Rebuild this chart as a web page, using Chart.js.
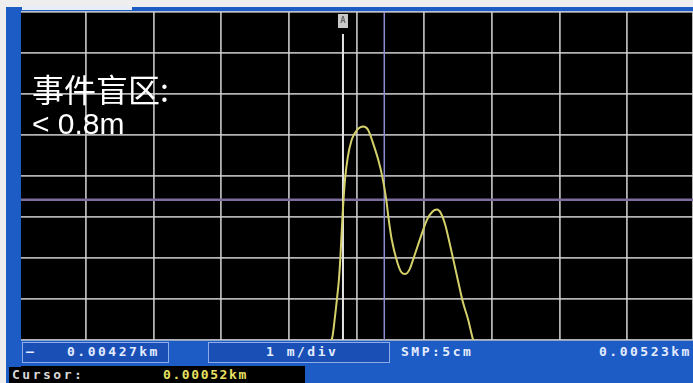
<!DOCTYPE html>
<html>
<head>
<meta charset="utf-8">
<script src="https://cdn.jsdelivr.net/npm/chart.js@4.4.1/dist/chart.umd.min.js"></script>
<style>
  html, body { margin: 0; padding: 0; }
  body { width: 693px; height: 383px; position: relative; overflow: hidden; background: #eeeeee; }
  .abs { position: absolute; }
  #frame { left: 6px; top: 7px; width: 687px; height: 376px; background: #1d5cc4; }
  #tab { left: 22px; top: 6px; width: 110px; height: 4px; background: #e8eef8; }
  #plotBg { left: 18px; top: 12px; width: 675px; height: 328px; background: #000; }
  #leftFrame { left: 6px; top: 7px; width: 15px; height: 360px; background: #1d5cc4; }
  #chartWrap { left: 0; top: 0; width: 693px; height: 383px; }
  .bar { font-family: "DejaVu Sans Mono", monospace; font-weight: bold; font-size: 13px;
         letter-spacing: 2.5px; color: #e4ecff; line-height: 16px; white-space: nowrap; }
  .box { background: #1a4fb6; border: 1px solid #8eacea; box-sizing: border-box; }
  #cursorBox { left: 9px; top: 366px; width: 296px; height: 17px; background: #000; }
  .note { font-family: "Liberation Sans", Arial, "Noto Sans CJK SC", sans-serif; color: #fff; white-space: nowrap; }
</style>
</head>
<body>
<div id="frame" class="abs"></div>
<div id="tab" class="abs"></div>
<div id="plotBg" class="abs"></div>

<!-- bottom status bar -->
<div class="abs box" style="left:22px;top:342px;width:147px;height:21px;"></div>
<div class="abs box" style="left:208px;top:342px;width:182px;height:21px;"></div>
<div class="abs bar" style="left:26px;top:344px;">–</div>
<div class="abs bar" style="left:67px;top:344px;">0.00427km</div>
<div class="abs bar" style="left:266px;top:344px;">1 m/div</div>
<div class="abs bar" style="left:401px;top:344px;">SMP:5cm</div>
<div class="abs bar" style="left:599px;top:344px;">0.00523km</div>
<div id="cursorBox" class="abs"></div>
<div class="abs bar" style="left:12px;top:367px;color:#d8d8d8;">Cursor:</div>
<div class="abs bar" style="left:163px;top:367px;color:#e8e060;letter-spacing:1.6px;">0.00052km</div>

<div id="chartWrap" class="abs"><canvas id="otdr" width="693" height="383"></canvas></div>
<div id="leftFrame" class="abs"></div>

<div class="abs note" style="left:32px;top:65px;font-size:32px;font-family:'Noto Sans CJK SC', sans-serif;">事件盲区:</div>
<div class="abs note" style="left:32px;top:107px;font-size:30px;">&lt; 0.8m</div>

<script>
// distance in divisions (1 div per grid column), level in divisions from the bottom
const traceX = [4.59, 4.64, 4.68, 4.71, 4.74, 4.76, 4.79, 4.83, 4.87, 4.93, 5.01, 5.10, 5.17, 5.24, 5.32, 5.38,
                5.44, 5.47, 5.52, 5.60, 5.66, 5.72, 5.78, 5.86, 5.95, 6.04, 6.12, 6.19, 6.25, 6.31, 6.37,
                6.43, 6.50, 6.57, 6.65, 6.72, 6.77];
const traceY = [-0.05, 0.05, 0.54, 0.98, 1.47, 1.96, 2.93, 3.91, 4.45, 4.89, 5.13, 5.21, 5.13, 4.82, 4.40, 3.99,
                3.42, 3.01, 2.45, 1.91, 1.66, 1.61, 1.71, 2.08, 2.52, 2.93, 3.13, 3.18, 3.08, 2.81, 2.40,
                1.96, 1.44, 0.93, 0.49, 0.02, -0.20];
const cursorA = 4.80;   // white cursor
const cursorB = 5.41;   // blue cursor
const levelLine = 3.42; // horizontal marker
const xRange = [0, 9.97];
const yRange = [0, 8];

const points = traceX.map((x, i) => ({ x: x, y: traceY[i] }));

const cursorPlugin = {
    id: 'cursors',
    beforeDatasetsDraw(chart) {
        const ctx = chart.ctx;
        const area = chart.chartArea;
        const xs = chart.scales.x;
        const ys = chart.scales.y;
        ctx.save();

        // horizontal level marker
        const hy = ys.getPixelForValue(levelLine);
        ctx.strokeStyle = '#7d6d9e';
        ctx.lineWidth = 2.5;
        ctx.beginPath();
        ctx.moveTo(area.left, hy);
        ctx.lineTo(area.right, hy);
        ctx.stroke();

        // cursor B
        const bx = xs.getPixelForValue(cursorB);
        ctx.strokeStyle = '#8c8ccf';
        ctx.lineWidth = 1.5;
        ctx.beginPath();
        ctx.moveTo(bx, area.top);
        ctx.lineTo(bx, area.bottom);
        ctx.stroke();

        // cursor A with its flag
        const ax = xs.getPixelForValue(cursorA);
        ctx.strokeStyle = '#e4e4e4';
        ctx.lineWidth = 2;
        ctx.beginPath();
        ctx.moveTo(ax, area.top + 22);
        ctx.lineTo(ax, area.bottom);
        ctx.stroke();
        ctx.fillStyle = '#c9c9c9';
        ctx.fillRect(ax - 5, area.top + 2, 10, 14);
        ctx.fillStyle = '#6a6a6a';
        ctx.font = 'bold 9px "DejaVu Sans Mono"';
        ctx.textAlign = 'center';
        ctx.textBaseline = 'middle';
        ctx.fillText('A', ax, area.top + 9);
        ctx.restore();
    }
};

const gridColor = 'rgba(210,210,210,0.85)';

new Chart(document.getElementById('otdr'), {
    type: 'line',
    data: {
        datasets: [{
            data: points,
            borderColor: '#d4d16a',
            borderWidth: 2,
            pointRadius: 0,
            tension: 0.4,
            cubicInterpolationMode: 'monotone',
            fill: false
        }]
    },
    options: {
        responsive: false,
        animation: false,
        events: [],
        layout: { padding: { left: 18, top: 12, right: 0, bottom: 43 } },
        plugins: { legend: { display: false }, tooltip: { enabled: false } },
        scales: {
            x: {
                type: 'linear',
                min: xRange[0],
                max: xRange[1],
                ticks: { display: false, stepSize: 1 },
                grid: { color: gridColor, lineWidth: 1.8, drawTicks: false },
                border: { display: false }
            },
            y: {
                min: yRange[0],
                max: yRange[1],
                ticks: { display: false, stepSize: 1 },
                grid: { color: gridColor, lineWidth: 1.8, drawTicks: false },
                border: { display: false }
            }
        }
    },
    plugins: [cursorPlugin]
});
</script>
</body>
</html>
